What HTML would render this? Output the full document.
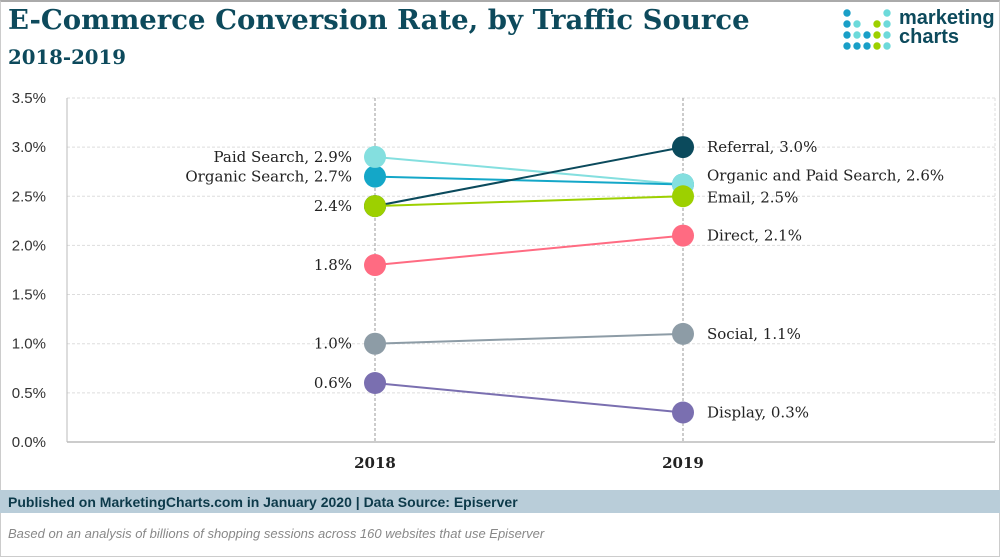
<!DOCTYPE html>
<html><head><meta charset="utf-8"><style>
body{margin:0;width:1000px;height:557px;background:#fff;font-family:"Liberation Sans",sans-serif;position:relative;overflow:hidden}
#frame{position:absolute;left:0;top:0;border:1px solid #ccc;border-top:2px solid #aaa;box-sizing:border-box;width:1000px;height:557px}
.t{position:absolute;white-space:nowrap}
</style></head><body>
<div id="frame"></div>
<div class="t fit" data-w="742" id="title" style="left:8px;top:4px;font-family:'DejaVu Serif',serif;font-size:28px;font-weight:bold;color:#0d4a5c">E-Commerce Conversion Rate, by Traffic Source</div>
<div class="t fit" data-w="118" style="left:8px;top:45px;font-family:'DejaVu Serif',serif;font-size:20px;font-weight:bold;color:#0d4a5c">2018-2019</div>
<svg style="position:absolute;left:838px;top:6px" width="60" height="50">
<g id="dots"></g></svg>
<div class="t" style="left:899px;top:9px;font-size:20px;font-weight:bold;color:#0d4a5c;line-height:19px">marketing<br>charts</div>
<svg id="chart" style="position:absolute;left:0;top:0" width="1000" height="488"></svg>
<div style="position:absolute;left:0;top:490px;width:1000px;height:23px;background:#b9cdd9"></div>
<div class="t" style="left:8px;top:494px;font-size:14px;font-weight:bold;color:#0d3a4a">Published on MarketingCharts.com in January 2020 | Data Source: Episerver</div>
<div class="t" style="left:8px;top:526px;font-size:13px;font-style:italic;color:#888">Based on an analysis of billions of shopping sessions across 160 websites that use Episerver</div>
<script>
const years=["2018","2019"];
const seriesNames=["Paid Search","Organic Search","Referral","Email","Direct","Social","Display"];
const v2018=[2.9,2.7,2.4,2.4,1.8,1.0,0.6];
const v2019=[2.62,2.62,3.0,2.5,2.1,1.1,0.3];
const yTicks=[0,0.5,1,1.5,2,2.5,3,3.5];
const leftLabels=["Paid Search, 2.9%","Organic Search, 2.7%","","2.4%","1.8%","1.0%","0.6%"];
const rightLabels=["","Organic and Paid Search, 2.6%","Referral, 3.0%","Email, 2.5%","Direct, 2.1%","Social, 1.1%","Display, 0.3%"];
const colors=["#84dfdf","#14a7c8","#0b4a5c","#9dd000","#ff6b82","#8d9ca6","#7a6fb0"];
document.querySelectorAll('.fit').forEach(e=>{const w=+e.dataset.w;const cur=e.getBoundingClientRect().width;const fs=parseFloat(getComputedStyle(e).fontSize);e.style.fontSize=(fs*w/cur)+'px';});
const NS="http://www.w3.org/2000/svg";
const svg=document.getElementById('chart');
const y=v=>442-v*98.3;
const x=i=>[375,683][i];
const SERIF="DejaVu Serif, serif";
function el(t,a){const e=document.createElementNS(NS,t);for(const k in a)e.setAttribute(k,a[k]);svg.appendChild(e);return e;}
yTicks.forEach(t=>{
 const l=el('line',{x1:67,x2:995,y1:y(t),y2:y(t),stroke:t===0?'#999':'#ddd','stroke-dasharray':t===0?'':'3,2'});
 
 
 const tx=el('text',{x:46,y:y(t)+5,'text-anchor':'end','font-size':15,fill:'#333'});
 tx.textContent=t.toFixed(1)+'%';
 
 
});
const ax=el('line',{x1:67,x2:67,y1:98,y2:442,stroke:'#bbb'});


const ax2=el('line',{x1:995,x2:995,y1:98,y2:442,stroke:'#ddd','stroke-dasharray':'3,2'});


years.forEach((yr,i)=>{
 const l=el('line',{x1:x(i),x2:x(i),y1:98,y2:442,stroke:'#999','stroke-dasharray':'3,2'});
 
 
 const t=el('text',{x:x(i),y:468,'text-anchor':'middle','font-size':15,'font-weight':'bold',fill:'#222','font-family':SERIF});
 t.textContent=yr;
 
 
});
seriesNames.forEach((n,i)=>{
 const l=el('line',{x1:x(0),y1:y(v2018[i]),x2:x(1),y2:y(v2019[i]),stroke:colors[i],'stroke-width':2});
 
 
});
[6,5,4,2,1,0,3].forEach(i=>{
 [v2018[i],v2019[i]].forEach((v,j)=>{
  const c=el('circle',{cx:x(j),cy:y(v),r:11,fill:colors[i]});
  
  
 });
});
seriesNames.forEach((n,i)=>{
 if(leftLabels[i]){
  const t=el('text',{x:x(0)-23,y:y(v2018[i])+5,'text-anchor':'end','font-size':15,fill:'#222','font-family':SERIF});
  t.textContent=leftLabels[i];
  
  
 }
 if(rightLabels[i]){
  let yy=y(v2019[i])+5; if(i===1) yy-=9; if(i===3) yy+=1;
  const t=el('text',{x:x(1)+24,y:yy,'font-size':15,fill:'#222','font-family':SERIF});
  t.textContent=rightLabels[i];
  
  
 }
});
const B="#1a9fc7",C="#6ddada",G="#9dd000";
const dots=[[B,null,null,null,C],[B,C,null,G,C],[B,C,B,G,C],[B,B,B,G,C]];
const dg=document.getElementById('dots');
dots.forEach((r,ri)=>r.forEach((c,ci)=>{if(!c)return;const e=document.createElementNS(NS,'circle');e.setAttribute('cx',9+ci*10);e.setAttribute('cy',7+ri*11);e.setAttribute('r',3.7);e.setAttribute('fill',c);dg.appendChild(e);}));
</script>
</body></html>
